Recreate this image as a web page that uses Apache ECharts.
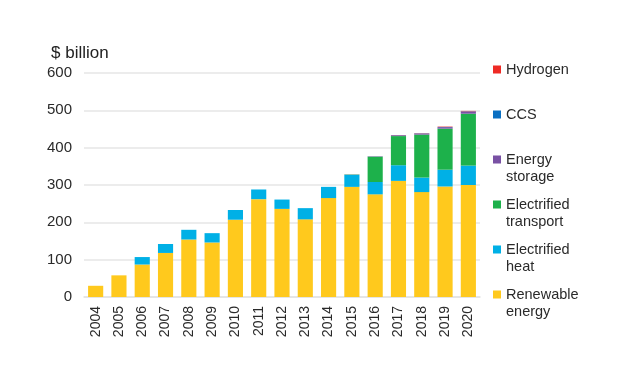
<!DOCTYPE html>
<html>
<head>
<meta charset="utf-8">
<script src="https://cdn.jsdelivr.net/npm/echarts@6/dist/echarts.min.js"></script>
<style>
  html, body { margin: 0; padding: 0; background: #fff; }
  #chart { width: 622px; height: 376px; }
</style>
</head>
<body>
<div id="chart"></div>
<script>
var years = ['2004', '2005', '2006', '2007', '2008', '2009', '2010', '2011', '2012',
  '2013', '2014', '2015', '2016', '2017', '2018', '2019', '2020'];
var renewable = [30, 58, 87, 118, 154, 146, 207, 262, 236, 208, 265, 295, 275, 311, 281, 296, 300];
var heat = [0, 0, 20, 24, 26, 25, 26, 26, 25, 30, 30, 32, 33, 42, 39, 45, 52];
var transport = [0, 0, 0, 0, 0, 0, 0, 0, 0, 0, 0, 1, 68, 78, 115, 110, 139];
var storage = [0, 0, 0, 0, 0, 0, 0, 0, 0, 0, 0, 0.5, 1, 2, 3, 4, 6];
var ccs = [0, 0, 0, 0, 0, 0, 0, 0, 0, 0, 0, 0, 0, 0.5, 0.5, 0.5, 0.5];
var hydrogen = [0, 0, 0, 0, 0, 0, 0, 0, 0, 0, 0, 0, 0, 0.5, 0.5, 1, 1];
var yTicks = [0, 100, 200, 300, 400, 500, 600];

var chart = echarts.init(document.getElementById('chart'), null, { renderer: 'canvas' });

var font = 'Liberation Sans, Arial, sans-serif';

function bar(name, data, color) {
  return {
    name: name,
    type: 'bar',
    stack: 'total',
    barWidth: '65%',
    data: data,
    itemStyle: { color: color }
  };
}

var legendText = { fontFamily: font, fontSize: 14.5, color: '#2a2a2a', lineHeight: 17 };
// square sits on the first text line of two-line labels
var topIcon = 'path://M0,0h8v8h-8z M0,24.99h0.01v0.01h-0.01z';

var option = {
  animation: false,
  grid: { left: 84, right: 142, top: 73, bottom: 79 },
  title: {
    text: '$ billion',
    left: 46,
    top: 40,
    textStyle: { fontFamily: font, fontSize: 17, fontWeight: 'normal', color: '#222' }
  },
  legend: [{
    orient: 'vertical',
    left: 493,
    top: 61,
    padding: 0,
    itemWidth: 8,
    itemHeight: 8,
    itemGap: 28,
    icon: 'rect',
    data: ['Hydrogen', 'CCS'],
    textStyle: legendText
  }, {
    orient: 'vertical',
    left: 493,
    top: 151,
    padding: 0,
    itemWidth: 8,
    itemHeight: 25,
    itemGap: 11,
    icon: topIcon,
    data: ['Energy\nstorage', 'Electrified\ntransport', 'Electrified\nheat', 'Renewable\nenergy'],
    textStyle: legendText
  }],
  xAxis: {
    type: 'category',
    data: years,
    axisLine: { show: true, lineStyle: { color: '#e2e2e2', width: 1.5 } },
    axisTick: { show: false },
    axisLabel: { rotate: 90, fontFamily: font, fontSize: 14, color: '#2a2a2a', margin: 9 }
  },
  yAxis: {
    type: 'value',
    min: yTicks[0],
    max: yTicks[yTicks.length - 1],
    interval: 100,
    axisLine: { show: false },
    axisTick: { show: false },
    splitLine: { lineStyle: { color: '#e6e6e6', width: 1.5 } },
    axisLabel: { fontFamily: font, fontSize: 15, color: '#2a2a2a', margin: 12 }
  },
  series: [
    bar('Renewable\nenergy', renewable, '#ffc91d'),
    bar('Electrified\nheat', heat, '#00b0e6'),
    bar('Electrified\ntransport', transport, '#1db14b'),
    bar('Energy\nstorage', storage, '#7951a4'),
    bar('CCS', ccs, '#0a6fc2'),
    bar('Hydrogen', hydrogen, '#ee2a25')
  ]
};

chart.setOption(option);
</script>
</body>
</html>
